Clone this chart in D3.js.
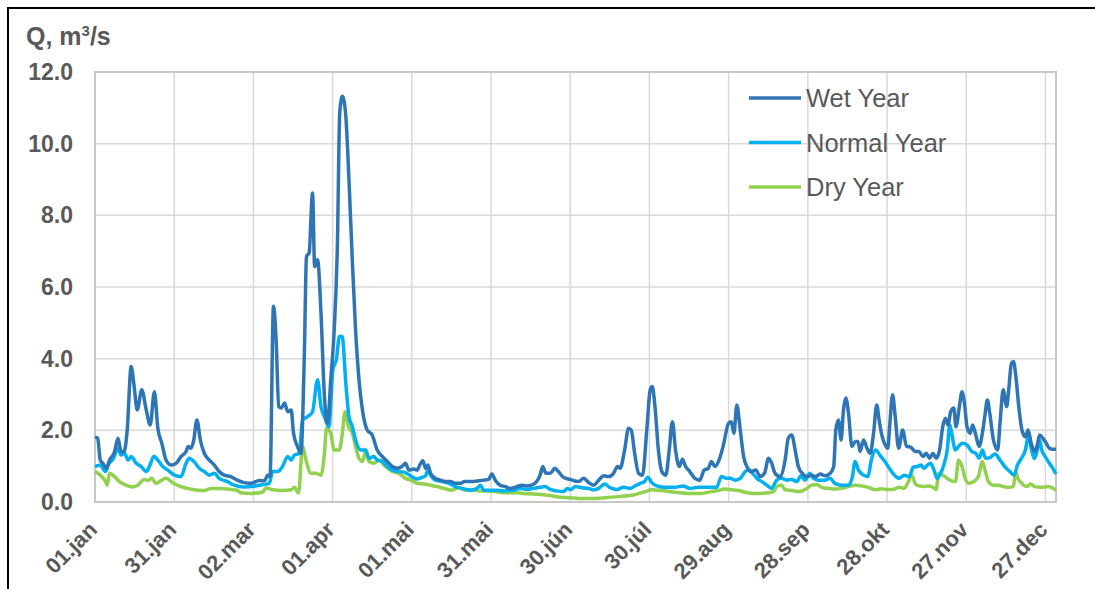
<!DOCTYPE html>
<html>
<head>
<meta charset="utf-8">
<script src="https://cdn.jsdelivr.net/npm/d3@7"></script>
<style>
  body { margin: 0; background: #fff; }
  text { font-family: "Liberation Sans", Arial, sans-serif; fill: #595959; }
</style>
</head>
<body>
<div class="vis-flow"></div>
<script>
// [day of year, Q m3/s]
const wetYear = [
  [0,1.81],[1,1.78],[2,1.17],[3,1.08],[4.3,0.94],[5.5,1.17],[7.4,1.4],[8.7,1.78],[9.9,1.4],[11,1.4],
  [12.2,2.01],[13.7,3.78],[14.7,3.31],[16,2.57],[17.7,3.13],[19.4,2.57],[20.9,2.15],[22.5,3.08],[23.8,2.06],
  [25.3,1.64],[26.9,1.17],[28.8,1.03],[30.7,1.08],[32.6,1.27],[34.5,1.41],[35.3,1.55],[36.4,1.5],[37.4,1.73],
  [38.6,2.29],[39.9,1.73],[41.4,1.36],[43.3,1.17],[45.2,1.03],[47,0.85],[48.9,0.75],[51.4,0.71],[53.9,0.61],
  [56.5,0.54],[59,0.52],[62.3,0.6],[64.2,0.59],[65.4,0.75],[66.3,0.71],[67.6,5.46],[68.6,4.52],[69.6,2.66],
  [70.5,2.62],[71.8,2.76],[73,2.52],[74.3,2.57],[75.2,1.92],[76.7,1.55],[78,1.36],[79.3,4.15],[80.1,6.85],
  [81.1,6.95],[82.4,8.62],[83.2,6.57],[84.3,6.76],[85.6,5.27],[86.9,2.94],[88.1,2.2],[89.3,3.41],[90.6,4.8],
  [91.8,7.13],[92.7,10.86],[93.7,11.32],[94.9,10.86],[96.2,8.99],[97.5,6.67],[98.7,4.8],[100,3.41],[101.3,2.57],
  [103.1,2.01],[105,1.87],[106.9,1.45],[108.8,1.27],[110.7,1.13],[112.6,0.99],[114.5,0.94],[116.3,0.99],
  [117.6,1.08],[118.9,0.89],[120.8,0.92],[122,0.89],[123,1.03],[124.2,1.15],[125.2,0.94],[126.1,1.03],
  [127.1,0.8],[128.9,0.66],[130.8,0.61],[132.7,0.57],[134.6,0.57],[136.5,0.52],[138.4,0.52],[140,0.57],
  [142.2,0.57],[145.3,0.59],[147.2,0.61],[149.1,0.63],[150.3,0.78],[151.6,0.61],[153.5,0.47],[155.4,0.43],
  [157.2,0.38],[159.8,0.43],[161.7,0.47],[163.5,0.45],[165.4,0.47],[167.3,0.57],[168.6,0.75],[169.6,0.99],
  [170.8,0.8],[172.4,0.8],[174.2,0.94],[175.5,0.85],[177.4,0.69],[179.9,0.63],[183.2,0.57],[185.1,0.66],
  [187,0.54],[188.9,0.47],[190.8,0.61],[192.7,0.73],[194.5,0.71],[196.4,0.8],[197.9,0.99],[198.9,0.94],
  [200.6,1.45],[202.1,2.06],[203.1,2.01],[204.4,1.36],[205.9,0.8],[207.4,0.75],[209,2.01],[210.3,3.13],
  [211.1,3.22],[212.1,2.66],[213.4,1.45],[214.7,0.85],[216.2,0.75],[217.5,1.45],[218.7,2.24],[219.9,1.45],
  [221.3,0.99],[222.5,1.19],[223.7,0.99],[225.3,0.85],[227.2,0.66],[229.1,0.61],[230.7,0.89],[232.3,0.94],
  [233.5,1.13],[234.8,0.99],[236.6,1.22],[237.9,1.55],[240,2.2],[241,2.24],[242,1.92],[243.1,2.71],
  [244.4,2.01],[245.7,1.26],[246.9,0.99],[248.5,0.85],[250.3,0.89],[251.9,0.71],[253.6,0.8],[255.1,1.22],
  [256.3,1.08],[257.6,0.8],[259.5,0.71],[261.4,1.17],[262.6,1.78],[263.9,1.87],[265.2,1.45],[266.4,0.99],
  [267.9,0.8],[269.7,0.71],[271.4,0.75],[272.9,0.71],[274.7,0.78],[276.6,0.73],[278.5,0.8],[279.8,0.99],
  [280.6,2.01],[281.6,2.29],[282.6,1.73],[283.5,2.57],[284.4,2.9],[285.4,2.48],[286.7,1.55],[288,1.69],
  [289,1.69],[289.8,1.41],[291.1,1.73],[292.4,1.5],[293.6,1.36],[294.9,1.92],[296.1,2.71],[297,2.29],
  [298,1.87],[299.3,1.59],[300.3,1.5],[300.9,2.01],[302.1,2.99],[303.1,2.38],[304.4,1.5],[305.9,2.01],
  [307.4,1.55],[309,1.53],[310.6,1.41],[312.1,1.41],[313.6,1.27],[314.9,1.36],[316.1,1.22],[317.4,1.36],
  [318.6,1.22],[319.9,1.45],[321.1,2.1],[322.1,2.34],[323.1,2.15],[324.1,2.52],[325.3,2.62],[326.1,2.1],
  [327.4,2.66],[328.4,3.08],[329.4,2.71],[330.3,2.1],[331.5,1.92],[332.4,2.15],[333.6,1.87],[334.9,1.55],
  [336.1,1.92],[337.1,2.43],[338,2.85],[339,2.43],[340.3,1.73],[341.9,1.45],[342.8,2.2],[344,3.13],
  [345.3,2.66],[346.1,3.13],[347.1,3.87],[347.9,3.92],[348.8,3.5],[349.9,2.66],[351.1,2.01],[352.4,1.82],
  [353.4,2.01],[354.6,1.64],[355.9,1.41],[356.9,1.59],[357.8,1.87],[359,1.78],[360.3,1.64],[361.5,1.5],
  [362.8,1.47],[364,1.47]
];

const normalYear = [
  [0,0.99],[2,1.03],[4,0.85],[5,1.03],[7,1.22],[8.7,1.5],[9.9,1.31],[11.2,1.36],[12.5,1.17],[13.7,1.27],
  [15.6,1.08],[17.5,0.99],[19.4,0.85],[20.6,0.99],[22.3,1.28],[23.8,1.17],[25.7,0.99],[27.6,0.89],[30.1,0.75],
  [32.6,0.71],[34.5,1.08],[35.7,1.22],[37.6,1.12],[39.5,0.94],[41.4,0.85],[43.3,0.75],[45.2,0.8],[47,0.66],
  [50.2,0.57],[52.7,0.47],[56.5,0.42],[60.2,0.44],[62.3,0.47],[66,0.52],[67.3,0.85],[69.2,0.85],[71,0.99],
  [73,1.27],[74.3,1.17],[75.5,1.31],[77.4,1.36],[78.6,2.29],[80.5,2.38],[82.4,2.52],[84.3,3.41],[85.6,2.66],
  [86.9,2.38],[88.6,2.1],[90.1,3.69],[91.4,3.97],[92.6,4.62],[93.6,4.62],[95.1,3.22],[96.2,2.38],[97.5,2.1],
  [98.7,1.73],[100.6,1.45],[102.5,1.45],[103.8,1.22],[105.7,1.27],[106.9,1.17],[108.8,1.13],[110.7,0.99],
  [112.6,0.89],[115.1,0.85],[117.6,0.82],[120.1,0.7],[122,0.64],[123.9,0.69],[125.2,0.73],[126.1,0.89],
  [127.1,0.75],[128.9,0.61],[131.5,0.57],[134,0.52],[136.5,0.43],[139,0.38],[142.2,0.33],[144.7,0.38],
  [146,0.47],[147.2,0.33],[149.8,0.33],[152.2,0.33],[154.7,0.31],[158.5,0.33],[161,0.38],[163.5,0.35],
  [166,0.38],[168.6,0.41],[170.5,0.43],[172.4,0.35],[174.8,0.31],[177.4,0.29],[179,0.38],[180,0.34],
  [182,0.43],[184.4,0.4],[187,0.38],[188.9,0.34],[190.8,0.38],[193,0.5],[195.1,0.4],[197.7,0.35],
  [200.2,0.41],[202.7,0.38],[204.6,0.45],[206.5,0.52],[208.1,0.57],[209.4,0.69],[210.9,0.54],[212.8,0.45],
  [215.9,0.41],[219.7,0.41],[222.8,0.45],[225.3,0.38],[228.5,0.41],[232.3,0.41],[235.4,0.41],[237.3,0.71],
  [239.2,0.66],[240.6,0.66],[242.5,0.61],[244.4,0.66],[246.3,0.85],[247.6,0.91],[249.1,0.8],[250.7,0.66],
  [252.6,0.57],[254.5,0.47],[256.3,0.38],[258.2,0.61],[260.1,0.66],[262,0.61],[263.9,0.63],[265.8,0.57],
  [267.4,0.73],[268.9,0.61],[270.8,0.8],[272.1,0.66],[274,0.61],[276.5,0.61],[278.4,0.66],[280.3,0.52],
  [282.8,0.47],[285.4,0.47],[286.9,0.71],[287.9,1.13],[289.2,0.89],[291.1,0.75],[292.7,0.71],[294.2,1.22],
  [295.7,1.45],[297.3,1.31],[299.2,1.13],[300.9,0.94],[302.8,0.75],[304.6,0.66],[306.5,0.75],[308.4,0.71],
  [309.9,0.97],[311.5,0.99],[312.8,1.03],[314,0.94],[315.3,1.03],[316.5,1.08],[317.8,0.89],[319,0.66],
  [320.3,0.8],[321.5,1.03],[322.8,1.45],[323.8,2.15],[324.6,1.87],[325.9,1.45],[327.1,1.55],[328.4,1.64],
  [330.3,1.59],[332.1,1.41],[333.6,1.36],[334.9,1.22],[336.1,1.45],[337.4,1.22],[339,1.24],[340.9,1.34],
  [342.8,1.17],[344.6,0.99],[346.5,0.85],[348.1,0.75],[349.4,1.03],[350.9,1.22],[352.4,1.45],[353.6,1.87],
  [354.6,1.5],[355.9,1.22],[356.9,1.45],[357.8,1.73],[358.6,1.45],[359.9,1.27],[361.5,1.08],[362.8,0.94],
  [364,0.78]
];

const dryYear = [
  [0,0.85],[2,0.75],[4,0.57],[4.6,0.47],[5.5,0.8],[7.4,0.71],[9.3,0.57],[11.7,0.47],[14.3,0.42],[16.2,0.47],
  [18.7,0.63],[20,0.6],[21.5,0.66],[23.1,0.52],[25,0.6],[26.9,0.66],[29.4,0.54],[32,0.44],[35,0.38],
  [38.9,0.33],[41.4,0.32],[44,0.38],[47.7,0.38],[51.4,0.35],[53.9,0.33],[55.2,0.26],[59,0.24],[63.5,0.28],
  [64.8,0.39],[67.3,0.34],[71,0.32],[74.3,0.34],[75.5,0.41],[77.1,0.25],[78.6,1.55],[79.9,1.17],[81.8,0.8],
  [83.7,0.8],[85.6,0.75],[86.9,1.36],[87.7,2.06],[89.3,1.92],[90.6,1.45],[92.5,1.45],[93.7,1.92],[94.7,2.52],
  [96,2.1],[97.5,1.92],[98.7,1.55],[100,1.22],[101.3,1.13],[102.5,1.41],[103.8,1.13],[105.7,1.08],[107.5,1.17],
  [110,0.99],[112.6,0.85],[115.1,0.8],[117.6,0.66],[120.1,0.6],[122,0.52],[124.5,0.5],[127.1,0.47],
  [129.6,0.43],[132.1,0.38],[135.2,0.33],[137.7,0.4],[140.3,0.33],[142.8,0.35],[145.3,0.31],[148.5,0.31],
  [151.6,0.29],[154.7,0.26],[158.5,0.26],[162.3,0.24],[166,0.22],[169.8,0.2],[173.6,0.17],[176.1,0.13],
  [179.9,0.12],[183.2,0.1],[188.3,0.1],[193.3,0.12],[198.3,0.15],[203.4,0.19],[208.4,0.29],[210.9,0.34],
  [214.7,0.32],[219.7,0.27],[224.7,0.24],[229.7,0.24],[233.5,0.29],[236,0.32],[238.5,0.36],[241.3,0.34],
  [243.8,0.32],[246.3,0.27],[248.8,0.24],[251.3,0.24],[254.5,0.25],[257,0.29],[258.6,0.45],[260.1,0.47],
  [261.4,0.34],[263.9,0.32],[267,0.29],[269.6,0.38],[271.4,0.47],[273.3,0.49],[275.2,0.41],[277.7,0.38],
  [280.3,0.36],[282.8,0.38],[285.4,0.43],[287.9,0.47],[290.4,0.45],[292.9,0.41],[295.5,0.34],[298,0.37],
  [299.6,0.35],[302.1,0.35],[304.6,0.41],[306.5,0.38],[308.1,0.57],[309.4,0.75],[310.6,0.52],[312.1,0.45],
  [314,0.43],[315.9,0.45],[317.4,0.41],[318.6,0.35],[319.6,0.8],[321.1,0.75],[322.8,0.66],[324.4,0.59],
  [325.9,0.57],[327.1,1.17],[328.4,0.99],[329.6,0.66],[330.9,0.52],[332.8,0.57],[334.6,0.71],[336.1,1.13],
  [337.1,0.89],[338.4,0.57],[340.3,0.47],[342.1,0.47],[344,0.43],[345.9,0.41],[347.8,0.43],[348.8,0.82],
  [349.6,0.66],[351.1,0.52],[352.8,0.43],[354.4,0.5],[355.9,0.43],[358.4,0.41],[360.9,0.43],[364,0.33]
];

const seriesNames = ["Wet Year", "Normal Year", "Dry Year"];
const seriesColors = ["#2e75b6", "#00b0f0", "#92d050"];
const tickDays = [0, 30, 60, 90, 120, 150, 180, 210, 240, 270, 300, 330, 360];
const tickLabels = ["01.jan", "31.jan", "02.mar", "01.apr", "01.mai", "31.mai", "30.jún",
  "30.júl", "29.aug", "28.sep", "28.okt", "27.nov", "27.dec"];
const yTicks = [0, 2, 4, 6, 8, 10, 12];

const W = 1095, H = 589;
const margin = { top: 72, right: 39, bottom: 87, left: 95 };
const width = W - margin.left - margin.right;
const height = H - margin.top - margin.bottom;

const root = d3.select(".vis-flow").append("svg")
  .attr("width", W)
  .attr("height", H);

// outer frame (only left and top edges are inside the picture)
root.append("path")
  .attr("d", "M8," + H + "V8H" + W)
  .attr("fill", "none")
  .attr("stroke", "#000")
  .attr("stroke-width", 2);

// axis title with superscript
let title = root.append("text")
  .attr("x", 26)
  .attr("y", 45)
  .attr("font-size", 25)
  .attr("font-weight", "bold");
title.append("tspan").text("Q, m");
title.append("tspan").attr("font-size", 15).attr("dy", -9).text("3");
title.append("tspan").attr("dy", 9).text("/s");

const svg = root.append("g")
  .attr("transform", "translate(" + margin.left + "," + margin.top + ")");

let x = d3.scaleLinear().domain([0, 364]).range([0, width]);
let y = d3.scaleLinear().domain([0, 12]).range([height, 0]);

// grid
svg.append("g")
  .selectAll("line")
  .data(yTicks)
  .enter()
  .append("line")
  .attr("x1", 0).attr("x2", width)
  .attr("y1", (d) => y(d)).attr("y2", (d) => y(d))
  .attr("stroke", "#d9d9d9")
  .attr("stroke-width", 1.5);

svg.append("g")
  .selectAll("line")
  .data(tickDays)
  .enter()
  .append("line")
  .attr("x1", (d) => x(d)).attr("x2", (d) => x(d))
  .attr("y1", 0).attr("y2", height)
  .attr("stroke", "#d9d9d9")
  .attr("stroke-width", 1.5);

svg.append("rect")
  .attr("width", width)
  .attr("height", height)
  .attr("fill", "none")
  .attr("stroke", "#c8c8c8")
  .attr("stroke-width", 2);

// y axis labels
let yAxis = svg.append("g")
  .call(d3.axisLeft(y).tickValues(yTicks).tickFormat(d3.format(".1f")).tickSize(0).tickPadding(22));
yAxis.select(".domain").remove();
yAxis.selectAll("text")
  .attr("font-size", 23)
  .attr("font-weight", "bold")
  .attr("fill", "#595959")
  .style("font-family", "'Liberation Sans', Arial, sans-serif");

// x axis labels, rotated
let xAxis = svg.append("g")
  .attr("transform", "translate(0," + height + ")")
  .call(d3.axisBottom(x).tickValues(tickDays).tickFormat((d, i) => tickLabels[i]).tickSize(0));
xAxis.select(".domain").remove();
xAxis.selectAll("text")
  .attr("font-size", 22)
  .attr("font-weight", "bold")
  .attr("fill", "#595959")
  .style("font-family", "'Liberation Sans', Arial, sans-serif")
  .style("text-anchor", "end")
  .attr("x", 0)
  .attr("y", 0)
  .attr("dy", 0)
  .attr("transform", "translate(3,29) rotate(-45)");

// lines
const line = d3.line()
  .x((d) => x(d[0]))
  .y((d) => y(d[1]))
  .curve(d3.curveMonotoneX);

// dry first, wet on top
[dryYear, normalYear, wetYear].forEach((s, i) => {
  svg.append("path")
    .datum(s)
    .attr("fill", "none")
    .attr("stroke", seriesColors[2 - i])
    .attr("stroke-width", 3.5)
    .attr("stroke-linejoin", "round")
    .attr("d", line);
});

// legend
let legend = root.append("g")
  .selectAll("g")
  .data(seriesNames)
  .enter()
  .append("g")
  .attr("transform", (d, i) => "translate(749," + (98 + i * 44.5) + ")");

legend.append("line")
  .attr("x1", 0).attr("x2", 52)
  .attr("stroke", (d, i) => seriesColors[i])
  .attr("stroke-width", 3.5);

legend.append("text")
  .attr("x", 57)
  .attr("dy", "0.36em")
  .attr("font-size", 25.5)
  .text((d) => d);
</script>
</body>
</html>
